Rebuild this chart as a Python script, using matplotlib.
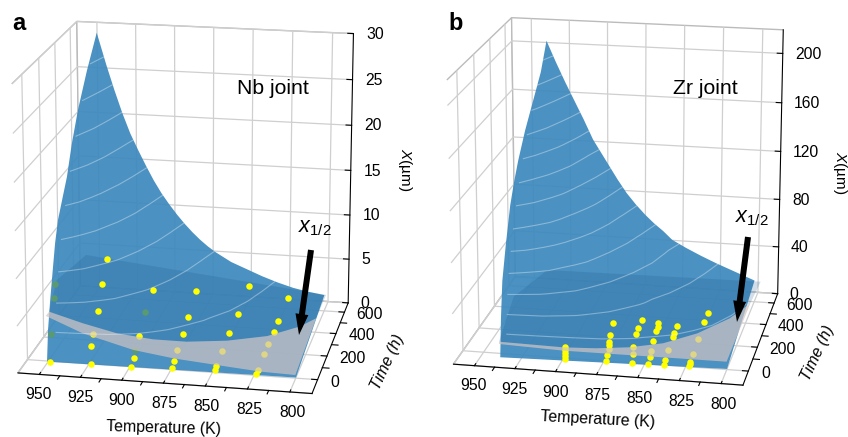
import matplotlib
matplotlib.use("Agg")
import matplotlib.pyplot as plt
import numpy as np
from matplotlib.patches import FancyArrow
from matplotlib.transforms import IdentityTransform
from mpl_toolkits.mplot3d import proj3d
from mpl_toolkits.mplot3d.art3d import Poly3DCollection

plt.rcParams['font.family'] = ['Liberation Sans', 'DejaVu Sans']
plt.rcParams['mathtext.fontset'] = 'custom'
plt.rcParams['mathtext.rm'] = 'Liberation Sans'
plt.rcParams['mathtext.it'] = 'Liberation Sans:italic'

temp_ticks = [950, 925, 900, 875, 850, 825, 800]
temp_minor = [937.5, 912.5, 887.5, 862.5, 837.5, 812.5]
time_ticks = [0, 200, 400, 600]
time_minor = [100, 300, 500]
times = [0, 25, 50, 100, 200, 300, 400, 500, 600]
time_frac = [0, 0.2, 0.29, 0.41, 0.58, 0.71, 0.82, 0.91, 1.0]

# Nb joint
nb_temps = [946, 940, 935, 930, 925, 920, 915, 910, 905, 900, 895, 890, 885, 880, 875, 870, 860, 850, 840, 830, 820, 810, 800]
nb_edge = [29.6, 26.1, 23.4, 20.9, 18.7, 16.9, 15.2, 13.6, 12.2, 11.0, 9.9, 8.9, 8.0, 7.2, 6.5, 5.9, 4.9, 4.2, 3.5, 2.9, 2.4, 2.05, 1.8]
nb_left_t = [-96, -77, -45, -5, 25, 64, 120, 184, 250, 337, 460]
nb_left_x = [1.2, 4.4, 7.2, 10.2, 12.4, 14.4, 16, 17.8, 20.6, 23.5, 26.6]
nb_up_T = [971, 945, 920, 896, 875, 851, 828, 811, 803]
nb_up_t = [428, 343, 274, 243, 242, 274, 338, 441, 526]
nb_low_T = [971, 941, 904, 877, 850, 822, 801]
nb_low_t = [387, 255, 141, 93, 63, 33, 25]
nb_dark_T = [981, 974, 803]
nb_dark_t = [733, 1006, 753]
nb_dot_T = [949, 924, 899, 875, 876, 849, 850, 824, 824, 931, 901, 878, 851, 825, 825, 934, 906, 880, 852, 825, 941, 883, 853, 826, 950, 915, 887, 855, 826, 958]
nb_dot_t = [-5, -3, -2, 16, 69, 21, 57, 14, 45, 153, 76, 166, 185, 182, 267, 252, 266, 310, 343, 375, 463, 466, 522, 482, 722, 694, 712, 796, 697, 974]
nb_hid_T = [903, 960, 911, 974, 980]
nb_hid_t = [141, 227, 479, 554, 694]

# Zr joint
zr_temps = [936, 930, 924, 918, 912, 906, 900, 895, 890, 884, 878, 872, 866, 860, 854, 845, 835, 825, 815, 805, 800]
zr_edge = [207, 190, 174, 159, 144, 128, 116, 106, 96, 85, 76, 68, 61, 55, 48, 42, 36, 30.5, 25.5, 20.5, 18]
zr_left_t = [-71, -55, -30, 20, 83, 135, 194, 290, 403, 515]
zr_left_x = [4, 33, 61, 85, 111, 125, 138, 155, 171, 187]
zr_up_T = [945, 904, 884, 864, 845, 827, 811, 802]
zr_up_t = [95, 86, 97, 125, 178, 282, 434, 583]
zr_low_T = [944, 903, 872, 841, 802]
zr_low_t = [76, 59, 60, 62, 63]
zr_dark_T = [955, 945, 801]
zr_dark_t = [499, 775, 795]
zr_dot_T = [903, 902, 901, 900, 899, 882, 880, 878, 877, 876, 875, 874, 865, 865, 864, 862, 860, 858, 854, 853, 853, 852, 850, 849, 848, 842, 841, 841, 840, 839, 838, 826, 826, 825, 824, 824, 823, 823]
zr_dot_t = [93, 66, 38, 16, -8, 326, 220, 160, 132, 96, 46, 2, 363, 291, 239, 133, 71, 0, 347, 317, 279, 192, 106, 57, -4, 337, 269, 234, 125, 42, 1, 472, 383, 238, 106, 42, 23, 4]

W, H = 848, 437
face = (0.241, 0.537, 0.747, 0.93)
dark = (0.1, 0.35, 0.55, 0.2)
grey = (0.817, 0.77, 0.758, 0.7)


def floor_poly(T, t):
    return [(a, b, 0) for a, b in zip(T, t)]


def setup(ax, zlim, zticks, view, box):
    ax.set_proj_type('persp', focal_length=view[2])
    ax.view_init(elev=view[0], azim=view[1])
    ax.set_box_aspect(box[:3], zoom=box[3])
    ax.set_xlim(963, 787)
    ax.set_ylim(-113, 690)
    ax.set_zlim(*zlim)
    ax.set_xticks(temp_ticks)
    ax.set_yticks(time_ticks)
    ax.set_zticks(zticks)
    ax.set_xticklabels([])
    ax.set_yticklabels([])
    ax.set_zticklabels([])
    ax.zaxis.set_ticks_position('upper')
    for axis in (ax.xaxis, ax.yaxis, ax.zaxis):
        axis.set_pane_color((1, 1, 1, 1))
        axis.pane.set_edgecolor('#bbbbbb')
        axis._axinfo['grid']['color'] = '#cfcfcf'
        axis._axinfo['grid']['linewidth'] = 0.9
        axis._axinfo['axisline']['color'] = 'black'
        axis._axinfo['tick']['color'] = 'black'
        axis._axinfo['tick']['inward_factor'] = 0
        axis._axinfo['tick']['outward_factor'] = 0.25
    ax.patch.set_alpha(0)
    ax.computed_zorder = False

    # tick labels go through the 3d projection, then as plain 2d text
    M = ax.get_proj()
    def tick_text(x, y, z, s, **kw):
        px, py, _ = proj3d.proj_transform(x, y, z, M)
        ax.text2D(px, py, s, transform=ax.transData, fontsize=11.3, **kw)
    for T in temp_ticks:
        tick_text(T - 4.5, -213, 0, str(T), ha='center', va='top')
    for t in time_ticks:
        tick_text(779, t - 14, 0, str(t), ha='left', va='center')
    for z in zticks:
        tick_text(779, 690, z, str(z), ha='left', va='center')
    for T in temp_minor:
        ax.plot([T, T], [-113, -140], [0, 0], color='black', lw=0.8, zorder=1)
    for t in time_minor:
        ax.plot([787, 783], [t, t], [0, 0], color='black', lw=0.8, zorder=1)


def surface(ax, temps, edge, left_t, left_x, levels):
    T = np.array(temps, float)
    e = np.array(edge, float)
    outline = [(a, 600, b) for a, b in zip(T, e)]
    outline += [(T[-1], 5, 0)]
    outline += [(T[0], a, b) for a, b in zip(left_t, left_x)]
    ax.add_collection3d(Poly3DCollection([outline], facecolors=[face], edgecolors='none', zorder=3))
    TT, tt = np.meshgrid(T, np.array(times, float))
    ax.contour(TT, tt, np.outer(time_frac, e), levels=levels, colors='white', linewidths=0.8, alpha=0.35, zorder=7)


def layers(ax, dark_T, dark_t, up_T, up_t, low_T, low_t, dot_T, dot_t):
    dark_poly = floor_poly(dark_T, dark_t) + floor_poly(up_T[::-1], up_t[::-1])
    band_poly = floor_poly(up_T, up_t) + floor_poly(low_T[::-1], low_t[::-1])
    ax.add_collection3d(Poly3DCollection([dark_poly], facecolors=[dark], edgecolors='none', zorder=4))
    ax.scatter(dot_T, dot_t, 0, s=22, c='#ffff00', linewidths=0, depthshade=False, zorder=5)
    ax.add_collection3d(Poly3DCollection([band_poly], facecolors=[grey], edgecolors='none', zorder=6))


fig = plt.figure(figsize=(W / 100, H / 100), dpi=100)
ax_a = fig.add_axes([-35 / W, 13.1 / H, H / W, 1], projection='3d')
ax_b = fig.add_axes([397.7 / W, 19.4 / H, H / W, 1], projection='3d')
setup(ax_a, (0, 30), [0, 5, 10, 15, 20, 25, 30], (17.063, -79.093, 1.068), (310.759, 284.428, 312.17, 1.088))
setup(ax_b, (0, 219), [0, 40, 80, 120, 160, 200], (17.5, -79.073, 0.99), (321.079, 292.872, 322.666, 1.069))
surface(ax_a, nb_temps, nb_edge, nb_left_t, nb_left_x, list(range(3, 30, 3)))
surface(ax_b, zr_temps, zr_edge, zr_left_t, zr_left_x, list(range(15, 210, 15)))
layers(ax_a, nb_dark_T, nb_dark_t, nb_up_T, nb_up_t, nb_low_T, nb_low_t, nb_dot_T, nb_dot_t)
layers(ax_b, zr_dark_T, zr_dark_t, zr_up_T, zr_up_t, zr_low_T, zr_low_t, zr_dot_T, zr_dot_t)
ax_a.scatter(nb_hid_T, nb_hid_t, 0, s=22, c='#5a9a70', linewidths=0, depthshade=False, zorder=5)


def label(x, y, s, **kw):
    fig.text(x / W, 1 - y / H, s, ha='center', va='center', **kw)


def arrow(x0, y0, x1, y1):
    fig.add_artist(FancyArrow(x0, H - y0, x1 - x0, y0 - y1, width=6, head_width=13, head_length=21,
                              length_includes_head=True, color='black', lw=0,
                              transform=IdentityTransform(), zorder=10))


label(19, 24, 'a', fontsize=17, fontweight='bold')
label(456, 23, 'b', fontsize=17, fontweight='bold')
label(273, 88, 'Nb joint', fontsize=15.3)
label(705, 88, 'Zr joint', fontsize=15.3)
label(164, 428, 'Temperature (K)', fontsize=11.4, rotation=-1.5)
label(598, 420, 'Temperature (K)', fontsize=11.4, rotation=-3)
label(388, 362, 'Time (h)', fontsize=11.4, rotation=65, style='italic')
label(818, 353, 'Time (h)', fontsize=11.4, rotation=65, style='italic')
label(405, 170, '$X$(µm)', fontsize=11, rotation=-90)
label(840, 173, '$X$(µm)', fontsize=11, rotation=-90)
label(315, 228, '$x_{1/2}$', fontsize=15.5)
label(752, 217, '$x_{1/2}$', fontsize=15.5)
arrow(311, 250, 299, 335)
arrow(748, 237, 737, 322)
fig.savefig('out.png', dpi=100)
